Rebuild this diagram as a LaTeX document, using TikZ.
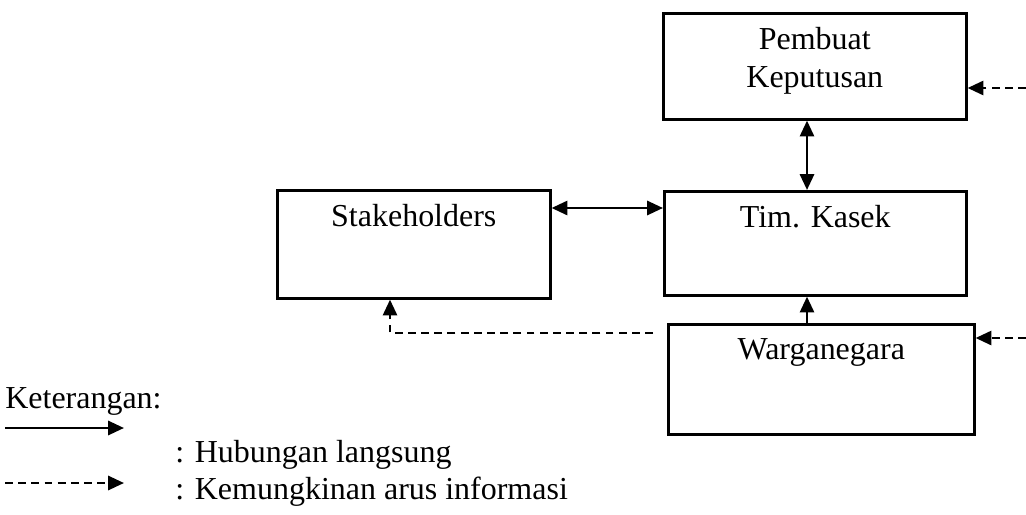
\documentclass[tikz,border=0pt]{standalone}
\usepackage{fontspec}
\setmainfont{Liberation Serif}
\usetikzlibrary{arrows.meta}

\tikzset{
	box/.style={draw, line width=1.5pt, rectangle, anchor=north west, inner sep=0pt},
	boxtext/.style={anchor=north, inner sep=0pt, yshift=-0.3cm, align=center},
	tip/.style={-{Triangle[length=9pt,width=8pt]}},
	link/.style={line width=1.5pt, tip},
	twoway/.style={line width=1.5pt, {Triangle[length=9pt,width=8pt]}-{Triangle[length=9pt,width=8pt]}},
	infolink/.style={link, dash pattern=on 4.5pt off 3pt},
}

\begin{document}
\begin{tikzpicture}[x=0.02cm, y=-0.02cm, font=\fontsize{18.2}{21.5}\selectfont]
	\useasboundingbox (0,0) rectangle (1026,514);
	% boxes
	\node[box, minimum width=6.06cm, minimum height=2.12cm,
		label={[boxtext]north:Pembuat\\Keputusan}] (pk) at (662,12) {};
	\node[box, minimum width=6.04cm, minimum height=2.08cm,
		label={[boxtext]north:Tim. Kasek}] (tk) at (663,190) {};
	\node[box, minimum width=5.46cm, minimum height=2.16cm,
		label={[boxtext]north:Stakeholders}] (sh) at (276,189) {};
	\node[box, minimum width=6.12cm, minimum height=2.2cm,
		label={[boxtext]north:Warganegara}] (wn) at (667,323) {};
	% helper coordinates
	\coordinate (mx) at (807,0);
	\coordinate (my) at (0,208);
	\coordinate (dx) at (390,0);
	\coordinate (ds) at (653,333);
	\coordinate (dc) at (390,333);
	\coordinate (rp) at (1026,88);
	\coordinate (rw) at (1026,338);
	% direct links
	\draw[twoway] (tk.north -| mx) -- (pk.south -| mx);
	\draw[twoway] (sh.east |- my) -- (tk.west |- my);
	\draw[link] (wn.north -| mx) -- (tk.south -| mx);
	% information flow
	\draw[infolink] (ds) -- (dc) -- (sh.south -| dx);
	\draw[infolink] (rp) -- (pk.east |- rp);
	\draw[infolink] (rw) -- (wn.east |- rw);
	% legend
	\node[anchor=base west, inner sep=0pt] (ket) at (5,408) {Keterangan:};
	\coordinate (l1a) at (5,428);
	\coordinate (l1b) at (124,428);
	\coordinate (l2a) at (5,483);
	\coordinate (l2b) at (124,483);
	\draw[link] (l1a) -- (l1b);
	\draw[infolink] (l2a) -- (l2b);
	\node[anchor=base west, inner sep=0pt] (hub) at (175,462) {: Hubungan langsung};
	\node[anchor=base west, inner sep=0pt] (kem) at (175,499) {: Kemungkinan arus informasi};
\end{tikzpicture}
\end{document}
